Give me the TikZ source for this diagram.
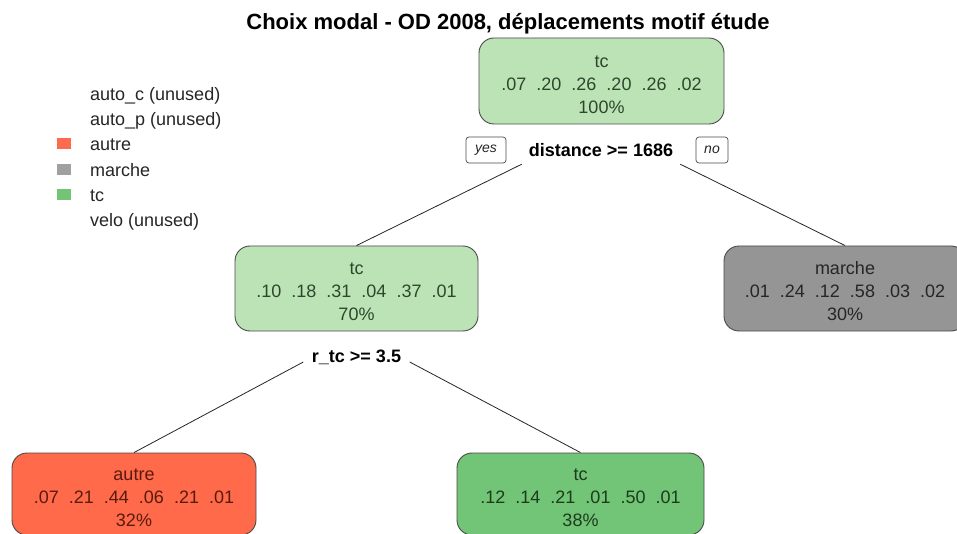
\documentclass[tikz,border=0pt]{standalone}
\usepackage{fontspec}
\setmainfont{Liberation Sans}
\definecolor{lightgreen}{HTML}{BCE3B6}
\definecolor{midgreen}{HTML}{72C476}
\definecolor{autrered}{HTML}{FE6A4A}
\definecolor{marchegray}{HTML}{959595}
\definecolor{edgegray}{HTML}{4A4A4A}
\definecolor{inkgreen}{HTML}{2E472C}
\definecolor{inkdeep}{HTML}{1D3B1D}
\definecolor{inkred}{HTML}{5A1A0E}
\definecolor{inkgray}{HTML}{262626}
\definecolor{legendsq}{HTML}{FF6A4D}
\definecolor{legendgray}{HTML}{A0A0A0}
\definecolor{legendgreen}{HTML}{74C476}
\newcommand\boxfont{\fontsize{18}{23}\selectfont}
\newcommand\titlefont{\fontsize{22}{26}\selectfont\bfseries}
\newcommand\gp{\hspace{10pt}}
% raises the top of a box's first line so the three lines sit a little low
\newcommand\lift{\rule{0pt}{19pt}}
\begin{document}
\begin{tikzpicture}[x=1pt,y=-1pt,
  leaf/.style={draw=edgegray, line width=0.9pt, rounded corners=15pt,
    align=center, font=\boxfont, minimum width=243pt, minimum height=85pt,
    inner sep=0pt},
  split/.style={font=\boxfont\bfseries, inner sep=0pt, minimum height=28pt},
  tag/.style={draw=edgegray, line width=0.7pt, rounded corners=3pt,
    font=\fontsize{14}{16}\selectfont\itshape, text=inkgray,
    minimum height=26pt, inner sep=0pt},
  conn/.style={draw=inkgray, line width=0.8pt},
  legtext/.style={anchor=base west, font=\boxfont, text=inkgray, inner sep=0pt}
]
\useasboundingbox (0,0) rectangle (957,534);
\clip (0,0) rectangle (957,534);
\fill[white] (0,0) rectangle (957,534);

% title
\node[anchor=base, font=\titlefont, inner sep=0pt] (title) at (508,30)
  {Choix modal - OD 2008, déplacements motif étude};

% legend
\node[legtext] (leg1) at (90,101) {auto\_c (unused)};
\node[legtext] (leg2) at (90,126) {auto\_p (unused)};
\node[legtext] (leg3) at (90,151) {autre};
\node[legtext] (leg4) at (90,177) {marche};
\node[legtext] (leg5) at (90,202) {tc};
\node[legtext] (leg6) at (90,227) {velo (unused)};
\fill[legendsq]    (57,138) rectangle (71,149);
\fill[legendgray]  (57,164) rectangle (71,175);
\fill[legendgreen] (57,189) rectangle (71,200);

% tree nodes
\node[leaf, fill=lightgreen, text=inkgreen, minimum width=245pt, minimum height=86pt] (n1) at (601.5,81)
  {\lift tc\\.07\gp.20\gp.26\gp.20\gp.26\gp.02\\100\%};
\node[leaf, fill=lightgreen, text=inkgreen] (n2) at (356.5,288.5)
  {\lift tc\\.10\gp.18\gp.31\gp.04\gp.37\gp.01\\70\%};
\node[leaf, fill=marchegray, text=inkgray, minimum width=242pt] (n3) at (845,288.5)
  {\lift marche\\.01\gp.24\gp.12\gp.58\gp.03\gp.02\\30\%};
\node[leaf, fill=autrered, text=inkred, minimum width=244pt, minimum height=82pt] (n4) at (134,494)
  {\lift autre\\.07\gp.21\gp.44\gp.06\gp.21\gp.01\\32\%};
\node[leaf, fill=midgreen, text=inkdeep, minimum width=247pt, minimum height=82pt] (n5) at (580.5,494)
  {\lift tc\\.12\gp.14\gp.21\gp.01\gp.50\gp.01\\38\%};

% split labels
\node[split, minimum width=158pt] (s1) at (601,150) {distance >= 1686};
\node[tag, minimum width=40pt] (yes) at (486,150) {yes};
\node[tag, minimum width=32pt] (no) at (712,150) {no};
\node[split, minimum width=106pt] (s2) at (356.5,357) {r\_tc >= 3.5};

% branches
\draw[conn] (s1.south west) -- (n2.north);
\draw[conn] (s1.south east) -- (n3.north);
\draw[conn] ([yshift=-5pt]s2.west) -- (n4.north);
\draw[conn] ([yshift=-5pt]s2.east) -- (n5.north);
\end{tikzpicture}
\end{document}
